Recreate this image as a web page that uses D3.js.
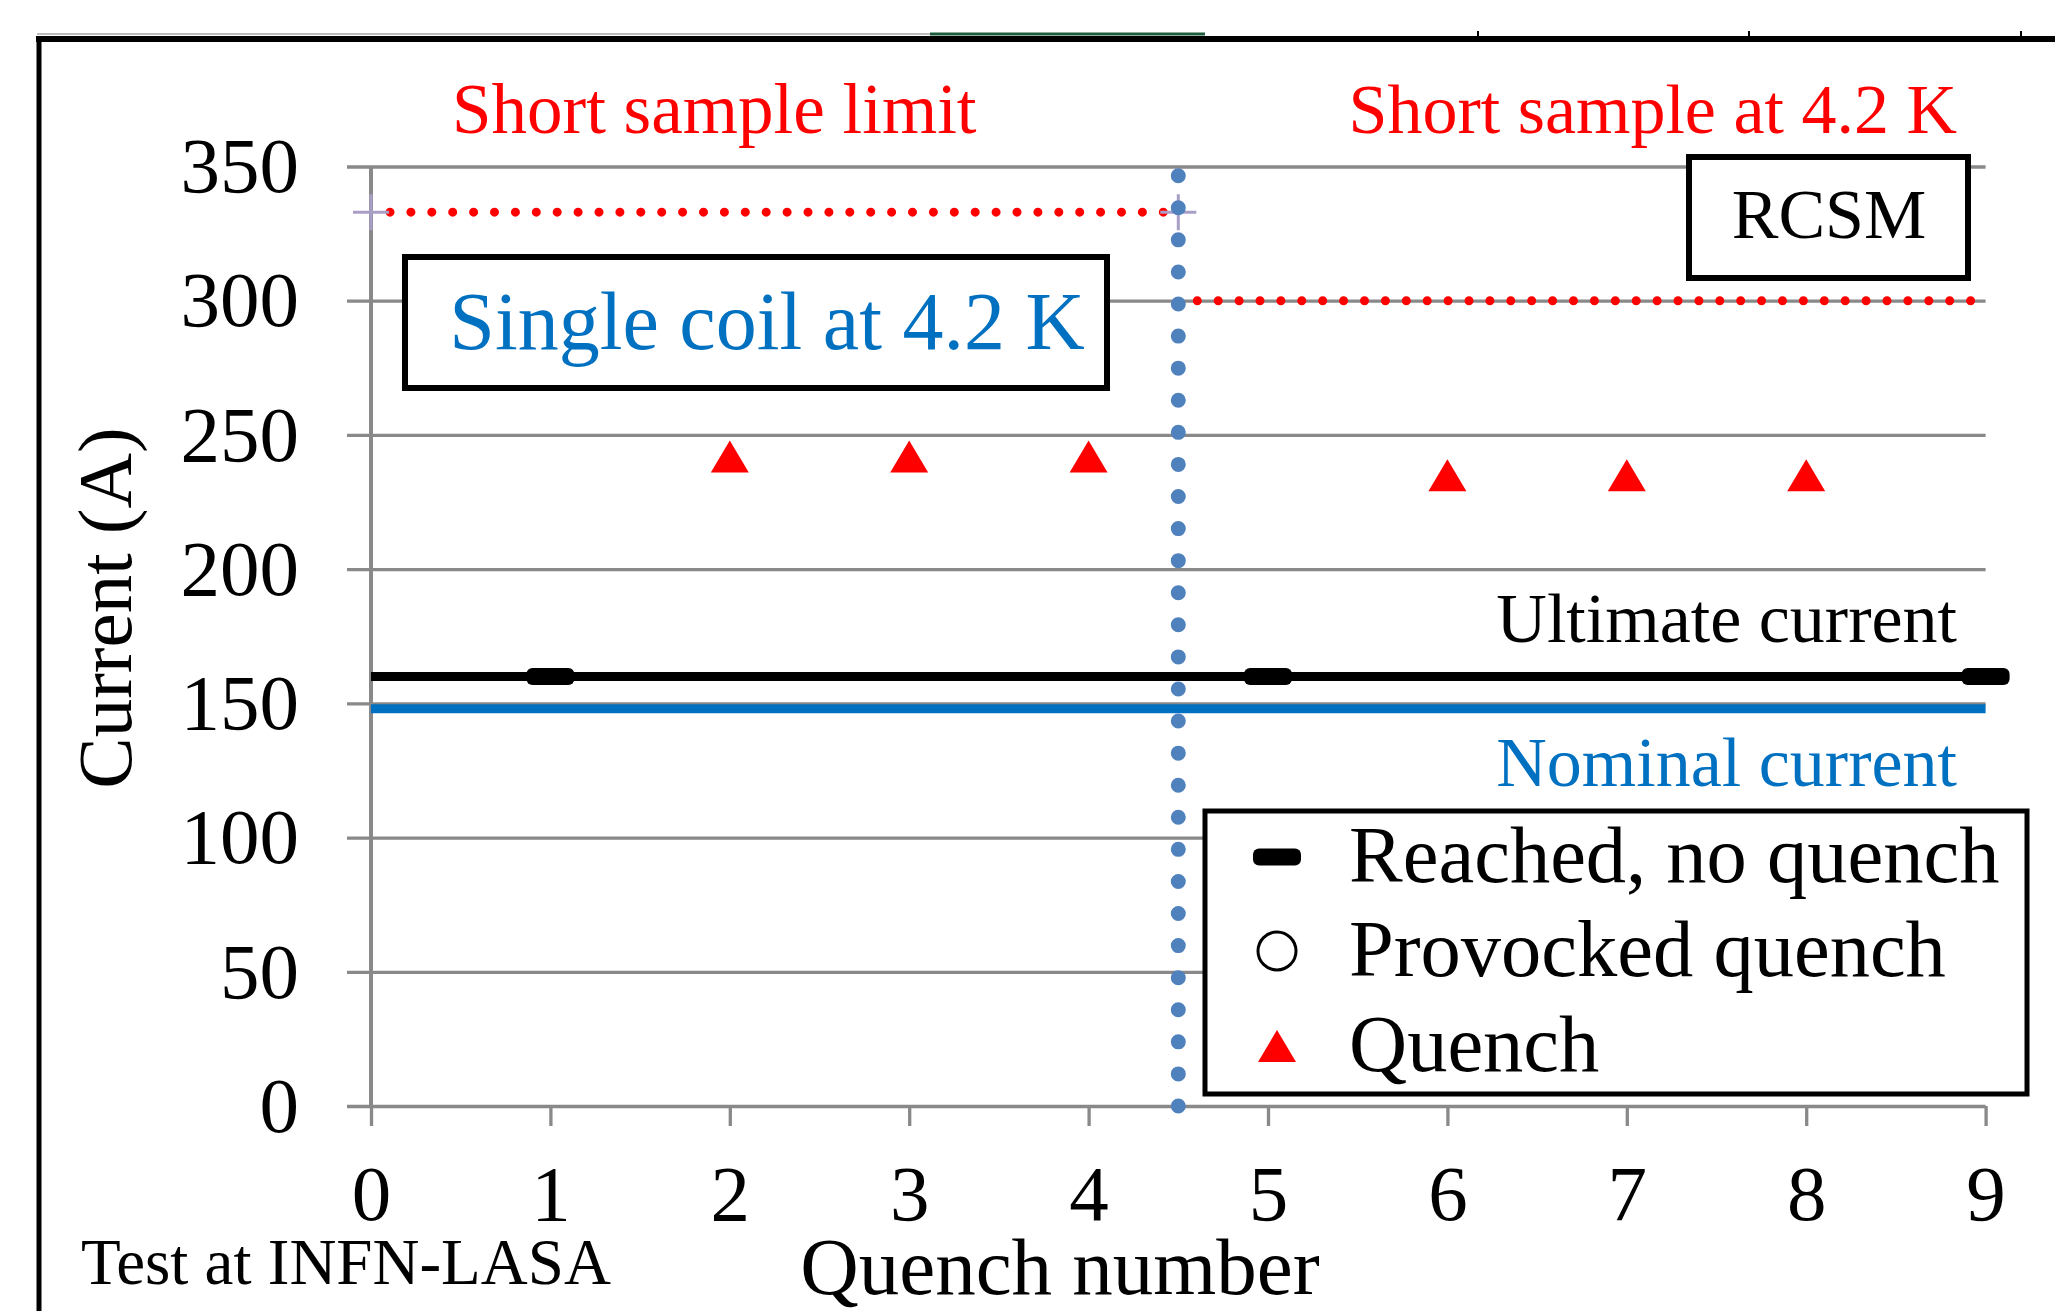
<!DOCTYPE html>
<html>
<head>
<meta charset="utf-8">
<script src="https://cdn.jsdelivr.net/npm/d3@7"></script>
<style>
  html, body { margin: 0; padding: 0; background: #fff; }
  svg { display: block; }
  text { font-family: "Liberation Serif", "Times New Roman", serif; }
</style>
</head>
<body>
<svg id="chart" width="2055" height="1311"></svg>
<script>
"use strict";

// quench training data
let quenchNum = [2, 3, 4, 6, 7, 8];
let quenchCurrent = [242, 242, 242, 235, 235, 235];
let reachedNum = [1, 5, 9];
let reachedCurrent = [160, 160, 160];
let ultimateCurrent = 160;
let nominalCurrent = 148;
let ssStart = [0, 4.5];
let ssEnd = [4.5, 9];
let ssCurrent = [333, 300];
let dividerAt = 4.5;
let xTicks = [0, 1, 2, 3, 4, 5, 6, 7, 8, 9];
let yTicks = [0, 50, 100, 150, 200, 250, 300, 350];
let legendLabels = ["Reached, no quench", "Provocked quench", "Quench"];

const RED = "#ff0000", BLUE = "#0070c0", GRID = "#898989", DOTBLUE = "#4f81bd";

let svg = d3.select("#chart");

let x = d3.scaleLinear().domain([0, 9]).range([371, 1985.6]);
let y = d3.scaleLinear().domain([0, 350]).range([1106, 166.5]);

// outer frame (cropped figure border)
svg.append("line").attr("x1", 37).attr("x2", 930).attr("y1", 34).attr("y2", 34)
  .attr("stroke", "#bbb").attr("stroke-width", 2);
svg.append("line").attr("x1", 930).attr("x2", 1205).attr("y1", 34).attr("y2", 34)
  .attr("stroke", "#1d5c3c").attr("stroke-width", 3);
svg.append("line").attr("x1", 36).attr("x2", 2055).attr("y1", 39).attr("y2", 39)
  .attr("stroke", "#000").attr("stroke-width", 6);
svg.append("line").attr("x1", 39).attr("x2", 39).attr("y1", 36).attr("y2", 1311)
  .attr("stroke", "#000").attr("stroke-width", 5);
[1478, 1749, 2021].forEach((px) => {
  svg.append("line").attr("x1", px).attr("x2", px).attr("y1", 31).attr("y2", 38)
    .attr("stroke", "#000").attr("stroke-width", 2);
});

// horizontal gridlines + y labels via axisLeft placed at the right edge
let yAxis = svg.append("g")
  .attr("transform", `translate(${x(9)},0)`)
  .call(d3.axisLeft(y).tickValues(yTicks).tickSize(x(9) - 347).tickPadding(48));
yAxis.select(".domain").remove();
yAxis.selectAll("line").attr("stroke", GRID).attr("stroke-width", 3.3);
yAxis.selectAll("text").attr("font-size", 79).attr("fill", "#000")
  .style("font-family", "'Liberation Serif', serif");

// x axis ticks + labels
let xAxis = svg.append("g")
  .attr("transform", `translate(0,${y(0)})`)
  .call(d3.axisBottom(x).tickValues(xTicks).tickSize(20).tickPadding(38));
xAxis.select(".domain").remove();
xAxis.selectAll("line").attr("stroke", GRID).attr("stroke-width", 3.3);
xAxis.selectAll("text").attr("font-size", 79).attr("fill", "#000")
  .style("font-family", "'Liberation Serif', serif");

// vertical axis line
svg.append("line")
  .attr("x1", x(0)).attr("x2", x(0)).attr("y1", y(350)).attr("y2", y(0))
  .attr("stroke", GRID).attr("stroke-width", 4);

// short sample limits (red dotted)
svg.selectAll(".ss").data(ssCurrent).enter().append("line")
  .attr("class", "ss")
  .attr("x1", (d, i) => x(ssStart[i]) + 19)
  .attr("x2", (d, i) => x(ssEnd[i]) - (i == 0 ? 14 : 12))
  .attr("y1", (d) => y(d)).attr("y2", (d) => y(d))
  .attr("stroke", RED).attr("stroke-width", 9)
  .attr("stroke-linecap", "round").attr("stroke-dasharray", "0 20.9");

// little lavender crosses at the ends of the left limit
[ssStart[0], ssEnd[0]].forEach((q) => {
  let cx = x(q), cy = y(ssCurrent[0]);
  svg.append("path")
    .attr("d", `M${cx - 18},${cy}H${cx + 18}M${cx},${cy - 18}V${cy + 18}`)
    .attr("stroke", "#a99fc6").attr("stroke-width", 3).attr("fill", "none");
});

// ultimate + nominal current lines
svg.append("line").attr("x1", x(0)).attr("x2", x(9))
  .attr("y1", y(nominalCurrent)).attr("y2", y(nominalCurrent))
  .attr("stroke", BLUE).attr("stroke-width", 9);
svg.append("line").attr("x1", x(0)).attr("x2", x(9))
  .attr("y1", y(ultimateCurrent)).attr("y2", y(ultimateCurrent))
  .attr("stroke", "#000").attr("stroke-width", 9);

// divider between single coil and RCSM tests
let divTop = 175.7;
svg.append("line")
  .attr("x1", x(dividerAt)).attr("x2", x(dividerAt))
  .attr("y1", divTop).attr("y2", y(0) + 1)
  .attr("stroke", DOTBLUE).attr("stroke-width", 15)
  .attr("stroke-linecap", "round")
  .attr("stroke-dasharray", `0 ${(y(0) - divTop) / 29}`);

// reached, no quench markers
let dash = (g, cx, cy) => g.append("rect")
  .attr("x", cx - 24).attr("y", cy - 8.5).attr("width", 48).attr("height", 17)
  .attr("rx", 6).attr("fill", "#000");
reachedNum.forEach((q, i) => dash(svg, x(q), y(reachedCurrent[i])));

// quench triangles
let tri = (cx, cy) => `M${cx - 19},${cy + 16}L${cx},${cy - 16}L${cx + 19},${cy + 16}Z`;
svg.selectAll(".quench").data(quenchNum).enter().append("path")
  .attr("class", "quench")
  .attr("d", (d, i) => tri(x(d), y(quenchCurrent[i])))
  .attr("fill", RED);

// annotations
let label = (txt, px, py, size, color, anchor) => svg.append("text")
  .attr("x", px).attr("y", py).attr("font-size", size)
  .attr("fill", color).attr("text-anchor", anchor || "start").text(txt);

label("Short sample limit", 452, 133, 71, RED);
label("Short sample at 4.2 K", 1957, 133, 70, RED, "end");
label("Ultimate current", 1957, 642, 70, "#000", "end");
label("Nominal current", 1957, 786, 70, BLUE, "end");

svg.append("rect").attr("x", 405).attr("y", 257).attr("width", 702).attr("height", 131)
  .attr("fill", "#fff").attr("stroke", "#000").attr("stroke-width", 6);
label("Single coil at 4.2 K", 767, 349, 82, BLUE, "middle");

svg.append("rect").attr("x", 1689).attr("y", 157).attr("width", 279).attr("height", 121)
  .attr("fill", "#fff").attr("stroke", "#000").attr("stroke-width", 6);
label("RCSM", 1829, 238, 70, "#000", "middle");

// legend
svg.append("rect").attr("x", 1205).attr("y", 811).attr("width", 822).attr("height", 283)
  .attr("fill", "#fff").attr("stroke", "#000").attr("stroke-width", 5);
let legRows = [857, 951, 1046];
let lx = 1277;
dash(svg, lx, legRows[0]);
svg.append("circle").attr("cx", lx).attr("cy", legRows[1]).attr("r", 19)
  .attr("fill", "#fff").attr("stroke", "#000").attr("stroke-width", 3);
svg.append("path").attr("d", tri(lx, legRows[2])).attr("fill", RED);
legendLabels.forEach((t, i) => label(t, 1349, legRows[i] + 25, 80.5, "#000"));

// axis titles
label("Quench number", 1060, 1294, 81, "#000", "middle");
svg.append("text")
  .attr("transform", "translate(131,608) rotate(-90)")
  .attr("text-anchor", "middle").attr("font-size", 77).attr("fill", "#000")
  .text("Current (A)");
label("Test at INFN-LASA", 81, 1284, 65, "#000");
</script>
</body>
</html>
